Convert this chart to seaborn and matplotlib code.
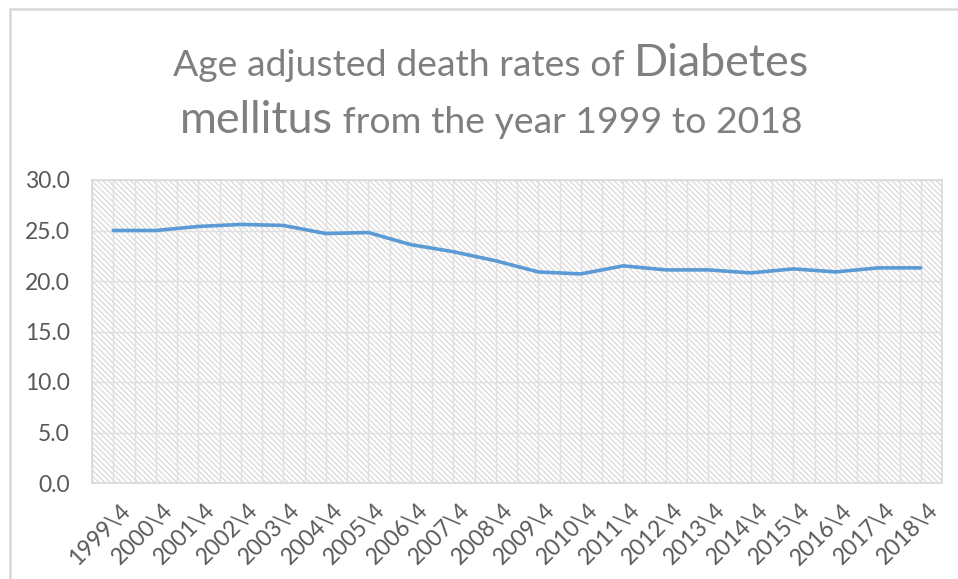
import matplotlib
matplotlib.use('Agg')
import matplotlib.pyplot as plt
import matplotlib.transforms as mtrans
import seaborn as sns
import pandas as pd
import numpy as np
from matplotlib.patches import Rectangle
from matplotlib.lines import Line2D

# ---- data ----
year_labels = ["1999\\4", "2000\\4", "2001\\4", "2002\\4", "2003\\4", "2004\\4",
               "2005\\4", "2006\\4", "2007\\4", "2008\\4", "2009\\4", "2010\\4",
               "2011\\4", "2012\\4", "2013\\4", "2014\\4", "2015\\4", "2016\\4",
               "2017\\4", "2018\\4"]
death_rates = [25.0, 25.0, 25.4, 25.6, 25.5, 24.7, 24.8, 23.6, 22.9, 22.0,
               20.9, 20.7, 21.5, 21.1, 21.1, 20.8, 21.2, 20.9, 21.3, 21.3]
y_ticks = [0, 5, 10, 15, 20, 25, 30]

sns.set_theme(style='white')
plt.rcParams['font.family'] = ['Lato', 'DejaVu Sans']
plt.rcParams['hatch.linewidth'] = 1.0

W, H = 958, 579
fig = plt.figure(figsize=(W / 100, H / 100), dpi=100)
fig.patch.set_facecolor('white')

# outer chart border (top and left only)
fig.add_artist(Line2D([10 / W, 1], [1 - 9 / H, 1 - 9 / H], color='#d9d9d9', lw=1.8))
fig.add_artist(Line2D([10 / W, 10 / W], [0, 1 - 9 / H], color='#d9d9d9', lw=1.8))

ax = fig.add_axes([92 / W, 1 - 483 / H, 850 / W, 303 / H])
ax.set_facecolor('white')
ax.add_patch(Rectangle((0, 0), 1, 1, transform=ax.transAxes, facecolor='white',
                       edgecolor='#dcdcdc', hatch='\\' * 6, lw=0, zorder=0))

df = pd.DataFrame({'idx': np.arange(len(year_labels)), 'label': year_labels,
                   'rate': death_rates})
sns.lineplot(data=df, x='idx', y='rate', ax=ax, color='#5b9bd5', lw=2.6,
             zorder=3)

ax.set_xlim(-0.5, len(year_labels) - 0.5)
ax.set_ylim(0, 30)
ax.set_yticks(y_ticks)
ax.set_yticklabels([f"{v:.1f}" for v in y_ticks])
ax.set_xticks(df['idx'])
ax.set_xticks(np.arange(-0.5, len(year_labels), 1), minor=True)
ax.set_xticklabels(year_labels, rotation=45, ha='right', rotation_mode='anchor')
ax.grid(True, which='both', axis='x', color='#e0e0e0', lw=1, zorder=1)
ax.grid(True, which='major', axis='y', color='#e0e0e0', lw=1, zorder=1)
ax.set_axisbelow(True)
ax.tick_params(axis='both', which='both', length=0, colors='#595959')
ax.tick_params(axis='y', labelsize=16.5, pad=16)
ax.tick_params(axis='x', labelsize=16.5, pad=12)
offset = mtrans.ScaledTranslation(6 / 100, 0, fig.dpi_scale_trans)
for lbl in ax.get_xticklabels():
    lbl.set_transform(lbl.get_transform() + offset)
ax.set_xlabel('')
ax.set_ylabel('')
for s in ax.spines.values():
    s.set_color('#d9d9d9')
    s.set_linewidth(1.2)

# ---- title with mixed sizes ----
tcol = '#7f7f7f'
renderer = fig.canvas.get_renderer()
line1 = [("Age adjusted death rates of ", 1.0), ("Diabetes", 1.2)]
line2 = [("mellitus", 1.2), (" from the year 1999 to 2018", 1.0)]


def measure(parts, size):
    total = 0
    for txt, k in parts:
        t = fig.text(0, 0, txt, fontsize=size * k)
        total += t.get_window_extent(renderer).width
        t.remove()
    return total

base = 20.0
w1 = measure(line1, base)
size = base * 638 / w1


def draw_line(parts, size, baseline_px, center_px=491):
    widths = []
    for txt, k in parts:
        t = fig.text(0, 0, txt, fontsize=size * k)
        widths.append(t.get_window_extent(renderer).width)
        t.remove()
    x = center_px - sum(widths) / 2
    for (txt, k), w in zip(parts, widths):
        fig.text(x / W, 1 - baseline_px / H, txt, fontsize=size * k, color=tcol,
                 va='baseline', ha='left')
        x += w

draw_line(line1, size, 76)
draw_line(line2, size, 133)

fig.savefig('out.png', dpi=100, facecolor='white')
